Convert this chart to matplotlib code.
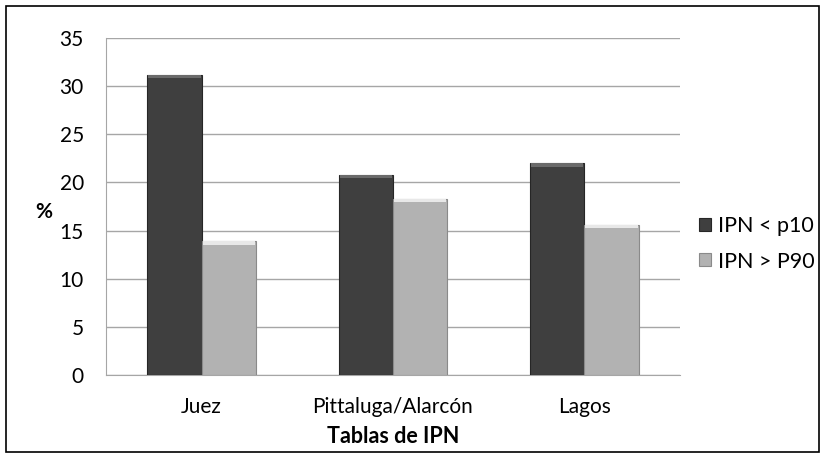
import matplotlib.pyplot as plt
import numpy as np
from matplotlib.patches import Rectangle

categories = ["Juez", "Pittaluga/Alarcón", "Lagos"]
series_names = ["IPN < p10", "IPN > P90"]
low_values = [31.2, 20.8, 22.0]
high_values = [13.9, 18.3, 15.6]
yticks = [0, 5, 10, 15, 20, 25, 30, 35]

plt.rcParams['font.family'] = ['Lato', 'DejaVu Sans']

fig = plt.figure(figsize=(8.25, 4.58), dpi=100)
ax = fig.add_axes([106/825, 1 - 375/458, (680-106)/825, (375-38)/458])

x = np.arange(len(categories))
w = 0.284
face = ["#3f3f3f", "#b2b2b2"]
edge = ["#262626", "#8a8a8a"]
top = ["#6a6a6a", "#e8e8e8"]

for i, vals in enumerate([low_values, high_values]):
    pos = x + (i - 0.5) * w
    ax.bar(pos, vals, width=w, color=face[i], edgecolor=edge[i], linewidth=0.8,
           zorder=3, label=series_names[i])
    # bevel highlight along the top of each bar
    ax.bar(pos, [0.35] * len(vals), bottom=np.array(vals) - 0.35, width=w * 0.96,
           color=top[i], linewidth=0, zorder=4)

ax.set_xlim(-0.5, 2.5)
ax.set_ylim(0, 35)
ax.set_yticks(yticks)
ax.set_xticks(x)
ax.set_xticklabels(categories, fontsize=15)
ax.tick_params(axis='y', labelsize=15, length=0, pad=16)
ax.tick_params(axis='x', length=0, pad=16)
ax.yaxis.grid(True, color="#a6a6a6", linewidth=1.0, zorder=0)
ax.set_axisbelow(True)
for s in ["top", "right"]:
    ax.spines[s].set_visible(False)
ax.spines["left"].set_color("#a6a6a6")
ax.spines["bottom"].set_color("#a6a6a6")

ax.set_xlabel("Tablas de IPN", fontsize=15.5, fontweight="bold", labelpad=6)
fig.text(44/825, 1 - 212/458, "%", fontsize=15, fontweight="bold", ha="center", va="center")

fig.legend(*ax.get_legend_handles_labels(), loc="center left",
           bbox_to_anchor=(699/825, 1 - 244/458), bbox_transform=fig.transFigure,
           frameon=False, fontsize=15.5, borderpad=0, borderaxespad=0,
           handlelength=0.55, handleheight=0.55, handletextpad=0.35, labelspacing=0.7)

# outer frame
fig.patches.append(Rectangle((6/825, 6/458), 813/825, 446/458, transform=fig.transFigure,
                             fill=False, edgecolor="black", linewidth=1.2))

fig.savefig("out.png", dpi=100)
